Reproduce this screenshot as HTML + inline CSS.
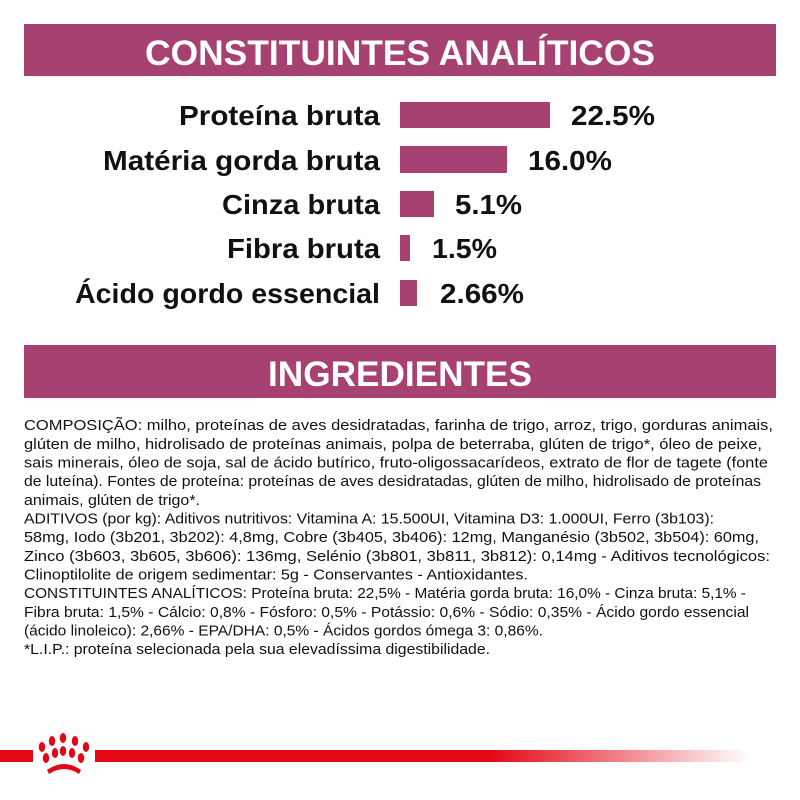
<!DOCTYPE html>
<html><head><meta charset="utf-8"><style>
html,body{margin:0;padding:0;background:#fff;}
svg{display:block;}
</style></head><body>
<svg width="800" height="800" xmlns="http://www.w3.org/2000/svg" font-family="Liberation Sans, sans-serif">
<defs>
<linearGradient id="g" x1="0" x2="1" y1="0" y2="0">
<stop offset="0" stop-color="#e30613"/>
<stop offset="0.6" stop-color="#e30613"/>
<stop offset="1" stop-color="#e30613" stop-opacity="0"/>
</linearGradient>
</defs>
<rect x="24" y="24" width="752" height="52" fill="#a64171"/>
<text x="145" y="65" font-size="35" font-weight="bold" fill="#fff" textLength="510" lengthAdjust="spacingAndGlyphs">CONSTITUINTES ANALÍTICOS</text>

<g font-size="28" font-weight="bold" fill="#111">
<text x="179" y="125" textLength="201" lengthAdjust="spacingAndGlyphs">Proteína bruta</text>
<text x="103" y="170" textLength="277" lengthAdjust="spacingAndGlyphs">Matéria gorda bruta</text>
<text x="222" y="214" textLength="158" lengthAdjust="spacingAndGlyphs">Cinza bruta</text>
<text x="227" y="258" textLength="153" lengthAdjust="spacingAndGlyphs">Fibra bruta</text>
<text x="75" y="303" textLength="305" lengthAdjust="spacingAndGlyphs">Ácido gordo essencial</text>
<text x="571" y="125" textLength="84" lengthAdjust="spacingAndGlyphs">22.5%</text>
<text x="528" y="170" textLength="84" lengthAdjust="spacingAndGlyphs">16.0%</text>
<text x="455" y="214" textLength="67" lengthAdjust="spacingAndGlyphs">5.1%</text>
<text x="432" y="258" textLength="65" lengthAdjust="spacingAndGlyphs">1.5%</text>
<text x="440" y="303" textLength="84" lengthAdjust="spacingAndGlyphs">2.66%</text>
</g>
<g fill="#a64171">
<rect x="400" y="102" width="150" height="26"/>
<rect x="400" y="146" width="107" height="27"/>
<rect x="400" y="191" width="34" height="26"/>
<rect x="400" y="235" width="10" height="26"/>
<rect x="400" y="280" width="17" height="26"/>
</g>

<rect x="24" y="345" width="752" height="53" fill="#a64171"/>
<text x="268" y="386" font-size="35" font-weight="bold" fill="#fff" textLength="264" lengthAdjust="spacingAndGlyphs">INGREDIENTES</text>

<g font-size="15" fill="#111">
<text x="24" y="430" textLength="749" lengthAdjust="spacingAndGlyphs">COMPOSIÇÃO: milho, proteínas de aves desidratadas, farinha de trigo, arroz, trigo, gorduras animais,</text>
<text x="24" y="449" textLength="738" lengthAdjust="spacingAndGlyphs">glúten de milho, hidrolisado de proteínas animais, polpa de beterraba, glúten de trigo*, óleo de peixe,</text>
<text x="24" y="467.5" textLength="744" lengthAdjust="spacingAndGlyphs">sais minerais, óleo de soja, sal de ácido butírico, fruto-oligossacarídeos, extrato de flor de tagete (fonte</text>
<text x="24" y="486" textLength="737" lengthAdjust="spacingAndGlyphs">de luteína). Fontes de proteína: proteínas de aves desidratadas, glúten de milho, hidrolisado de proteínas</text>
<text x="24" y="505" textLength="176" lengthAdjust="spacingAndGlyphs">animais, glúten de trigo*.</text>
<text x="24" y="523.5" textLength="690" lengthAdjust="spacingAndGlyphs">ADITIVOS (por kg): Aditivos nutritivos: Vitamina A: 15.500UI, Vitamina D3: 1.000UI, Ferro (3b103):</text>
<text x="24" y="542" textLength="735" lengthAdjust="spacingAndGlyphs">58mg, Iodo (3b201, 3b202): 4,8mg, Cobre (3b405, 3b406): 12mg, Manganésio (3b502, 3b504): 60mg,</text>
<text x="24" y="561" textLength="746" lengthAdjust="spacingAndGlyphs">Zinco (3b603, 3b605, 3b606): 136mg, Selénio (3b801, 3b811, 3b812): 0,14mg - Aditivos tecnológicos:</text>
<text x="24" y="579.5" textLength="504" lengthAdjust="spacingAndGlyphs">Clinoptilolite de origem sedimentar: 5g - Conservantes - Antioxidantes.</text>
<text x="24" y="598" textLength="722" lengthAdjust="spacingAndGlyphs">CONSTITUINTES ANALÍTICOS: Proteína bruta: 22,5% - Matéria gorda bruta: 16,0% - Cinza bruta: 5,1% -</text>
<text x="24" y="617" textLength="725" lengthAdjust="spacingAndGlyphs">Fibra bruta: 1,5% - Cálcio: 0,8% - Fósforo: 0,5% - Potássio: 0,6% - Sódio: 0,35% - Ácido gordo essencial</text>
<text x="24" y="635.5" textLength="519" lengthAdjust="spacingAndGlyphs">(ácido linoleico): 2,66% - EPA/DHA: 0,5% - Ácidos gordos ómega 3: 0,86%.</text>
<text x="24" y="654" textLength="466" lengthAdjust="spacingAndGlyphs">*L.I.P.: proteína selecionada pela sua elevadíssima digestibilidade.</text>
</g>

<rect x="0" y="750" width="33" height="12" fill="#e30613"/>
<rect x="95" y="750" width="655" height="12" fill="url(#g)"/>
<g fill="#e30613">
<ellipse cx="42" cy="747" rx="3.2" ry="5"/>
<ellipse cx="52" cy="741" rx="3.2" ry="5"/>
<ellipse cx="63" cy="738" rx="3.2" ry="5"/>
<ellipse cx="75" cy="741" rx="3.2" ry="5"/>
<ellipse cx="86" cy="747" rx="3.2" ry="5"/>
<ellipse cx="46" cy="758" rx="3.2" ry="5"/>
<ellipse cx="55" cy="753" rx="3.2" ry="5"/>
<ellipse cx="63" cy="751" rx="3.2" ry="5"/>
<ellipse cx="72" cy="753" rx="3.2" ry="5"/>
<ellipse cx="81" cy="758" rx="3.2" ry="5"/>
<path d="M47 770 Q64 758 81 770 L79 774 Q64 764 49 774 Z"/>
</g>
</svg>
</body></html>
